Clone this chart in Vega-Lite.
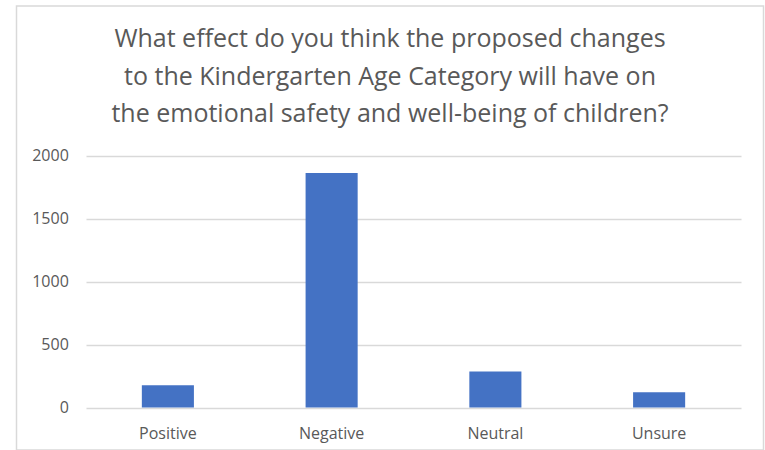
{
  "$schema": "https://vega.github.io/schema/vega-lite/v6.json",
  "autosize": {"type": "none"},
  "padding": {"left": 16.5, "top": 6, "right": 1.5, "bottom": 0},
  "width": 747,
  "height": 444,
  "background": "#FFFFFF",
  "title": {
    "text": [
      "What effect do you think the proposed changes",
      "to the Kindergarten Age Category will have on",
      "the emotional safety and well-being of children?"
    ],
    "anchor": "middle",
    "frame": "group",
    "offset": -121,
    "font": "Open Sans",
    "fontSize": 25,
    "fontWeight": "normal",
    "color": "#595959",
    "lineHeight": 37.5
  },
  "data": {
    "values": [
      {"response": "Positive", "count": 176},
      {"response": "Negative", "count": 1862},
      {"response": "Neutral", "count": 285},
      {"response": "Unsure", "count": 122}
    ]
  },
  "mark": {"type": "bar", "color": "#4472C4"},
  "encoding": {
    "x": {
      "field": "response",
      "type": "nominal",
      "sort": null,
      "scale": {"range": [69.5, 724.5], "paddingInner": 0.682, "paddingOuter": 0.341},
      "axis": {
        "title": null,
        "domain": false,
        "ticks": false,
        "grid": false,
        "labelAngle": 0,
        "labelPadding": -25,
        "labelFont": "Open Sans",
        "labelFontSize": 16,
        "labelColor": "#595959"
      }
    },
    "y": {
      "field": "count",
      "type": "quantitative",
      "scale": {"domain": [0, 2000], "range": [401.5, 149.7], "nice": false, "zero": true},
      "axis": {
        "title": null,
        "values": [0, 500, 1000, 1500, 2000],
        "format": "d",
        "domain": false,
        "ticks": false,
        "grid": true,
        "gridColor": "#D9D9D9",
        "gridWidth": 1.3,
        "labelPadding": -51.8,
        "labelFont": "Open Sans",
        "labelFontSize": 16,
        "labelColor": "#595959"
      }
    }
  },
  "config": {
    "view": {"stroke": "#D9D9D9", "strokeWidth": 1.5}
  }
}
